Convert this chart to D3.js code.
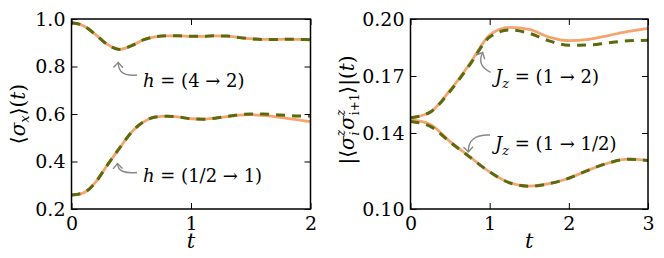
<!DOCTYPE html>
<meta charset="utf-8">
<title>Quench dynamics</title>
<style>
body { margin: 0; background: #fff; }
svg { display: block; }
svg text { font-family: "DejaVu Serif", "Liberation Serif", serif; }
.frame { fill: none; stroke: #000; stroke-width: 1.5; }
.axis path { display: none; }
.axis line { stroke: #000; stroke-width: 1; }
.axis text { font-size: 19px; fill: #000; }
.solid { fill: none; stroke: #f5a46e; stroke-width: 2.8; }
.dashed { fill: none; stroke: #5a6a0c; stroke-width: 3; stroke-dasharray: 9,7; }
.note { stroke: #888; stroke-width: 1.4; fill: none; }
.lbl { font-size: 18px; fill: #000; }
</style>
<svg width="664" height="258"></svg>
<script src="https://d3js.org/d3.v7.min.js"></script>
<script>
// left panel: <sigma_x>(t)
const tLeft = [0,0.1,0.2,0.3,0.4,0.5,0.6,0.7,0.8,0.9,1.0,1.1,1.2,1.3,1.4,1.5,1.6,1.7,1.8,1.9,2.0];
const hHighExact = [0.984,0.972,0.935,0.893,0.872,0.887,0.912,0.925,0.929,0.929,0.927,0.927,0.929,0.928,0.922,0.917,0.914,0.914,0.915,0.914,0.913];
const hHighApprox = [0.984,0.972,0.935,0.893,0.872,0.887,0.912,0.925,0.929,0.929,0.927,0.927,0.929,0.928,0.922,0.917,0.914,0.914,0.915,0.914,0.913];
const hLowExact = [0.259,0.268,0.312,0.385,0.455,0.522,0.566,0.587,0.591,0.587,0.580,0.578,0.582,0.589,0.595,0.597,0.594,0.589,0.582,0.575,0.568];
const hLowApprox = [0.259,0.268,0.312,0.385,0.455,0.522,0.566,0.587,0.591,0.587,0.580,0.578,0.582,0.590,0.597,0.600,0.600,0.597,0.594,0.592,0.592];
const leftTicksX = [0,1,2];
const leftTicksY = [0.2,0.4,0.6,0.8,1.0];

// right panel: |<sz_i sz_i+1>|(t)
const tRight = [0,0.25,0.5,0.75,1.0,1.25,1.5,1.75,2.0,2.25,2.5,2.75,3.0];
const jUpExact = [0.148,0.151,0.1625,0.1765,0.1915,0.1956,0.1945,0.1905,0.1886,0.1893,0.1913,0.1935,0.1951];
const jUpApprox = [0.148,0.151,0.1620,0.1760,0.1905,0.1942,0.1925,0.1885,0.1862,0.1863,0.1875,0.1885,0.1888];
const jDownExact = [0.147,0.1445,0.1355,0.1275,0.1195,0.1138,0.1120,0.1133,0.1162,0.1205,0.1242,0.1262,0.1255];
const jDownApprox = [0.146,0.1435,0.1352,0.1273,0.1195,0.1138,0.1120,0.1133,0.1162,0.1205,0.1242,0.1262,0.1255];
const rightTicksX = [0,1,2,3];
const rightTicksY = [0.10,0.14,0.17,0.20];

const svg = d3.select("svg");

function panel(cfg) {
  const x = d3.scaleLinear().domain(cfg.xd).range([cfg.left, cfg.right]);
  const y = d3.scaleLinear().domain(cfg.yd).range([209, 19]);
  const g = svg.append("g");
  const line = d3.line().curve(d3.curveMonotoneX).x(d => x(d[0])).y(d => y(d[1]));
  cfg.series.forEach(s => {
    g.append("path").attr("class", "solid").attr("d", line(cfg.t.map((t, i) => [t, s[0][i]])));
  });
  cfg.series.forEach(s => {
    g.append("path").attr("class", "dashed").attr("d", line(cfg.t.map((t, i) => [t, s[1][i]])));
  });
  g.append("g").attr("class", "axis").attr("transform", `translate(0,209)`)
    .call(d3.axisBottom(x).tickValues(cfg.xt).tickFormat(d3.format("d")).tickSize(-6).tickPadding(8));
  g.append("g").attr("class", "axis").attr("transform", `translate(0,19)`)
    .call(d3.axisTop(x).tickValues(cfg.xt).tickFormat("").tickSize(-6));
  g.append("g").attr("class", "axis").attr("transform", `translate(${cfg.left},0)`)
    .call(d3.axisLeft(y).tickValues(cfg.yt).tickFormat(d3.format(cfg.yf)).tickSize(-6).tickPadding(6));
  g.append("g").attr("class", "axis").attr("transform", `translate(${cfg.right},0)`)
    .call(d3.axisRight(y).tickValues(cfg.yt).tickFormat("").tickSize(-6));
  g.selectAll(".axis").attr("font-family", null);
  g.append("rect").attr("class", "frame")
    .attr("x", cfg.left).attr("y", 19).attr("width", cfg.right - cfg.left).attr("height", 190);
  g.append("text").attr("class", "lbl").attr("x", (cfg.left + cfg.right) / 2).attr("y", 248)
    .attr("text-anchor", "middle").style("font-style", "italic").style("font-size", "21px").text("t");
  return g;
}

function arrow(g, p0, c, p1) {
  g.append("path").attr("class", "note").attr("d", `M${p0[0]},${p0[1]}Q${c[0]},${c[1]} ${p1[0]},${p1[1]}`);
  const a = Math.atan2(p1[1] - c[1], p1[0] - c[0]);
  const L = 7, w = Math.PI / 4.2;
  const h = [a + Math.PI - w, a + Math.PI + w].map(b => [p1[0] + L * Math.cos(b), p1[1] + L * Math.sin(b)]);
  g.append("path").attr("class", "note").attr("d", `M${h[0][0]},${h[0][1]}L${p1[0]},${p1[1]}L${h[1][0]},${h[1][1]}`);
}

function note(g, x, y, sym, sub, rest) {
  const t = g.append("text").attr("class", "lbl").attr("x", x).attr("y", y);
  t.append("tspan").style("font-style", "italic").text(sym);
  if (sub) {
    t.append("tspan").style("font-style", "italic").style("font-size", "13px").attr("dy", 5).text(sub);
    t.append("tspan").attr("dy", -5).text(" = " + rest);
  } else {
    t.append("tspan").text(" = " + rest);
  }
}

const gl = panel({
  xd: [0, 2], yd: [0.2, 1.0], left: 71.5, right: 310.5,
  t: tLeft, xt: leftTicksX, yt: leftTicksY, yf: ".1f",
  series: [[hHighExact, hHighApprox], [hLowExact, hLowApprox]]
});
arrow(gl, [137, 75], [118, 77], [118.3, 62.5]);
arrow(gl, [137, 172.5], [118, 174.5], [117.5, 163.5]);
note(gl, 143, 87, "h", null, "(4 \u2192 2)");
note(gl, 143, 182, "h", null, "(1/2 \u2192 1)");

const ylL = gl.append("text").attr("class", "lbl").attr("transform", "translate(25,114) rotate(-90)")
  .attr("text-anchor", "middle").style("font-size", "20px");
ylL.append("tspan").text("\u27e8");
ylL.append("tspan").style("font-style", "italic").text("\u03c3");
ylL.append("tspan").style("font-style", "italic").style("font-size", "13px").attr("dy", 4).text("x");
ylL.append("tspan").attr("dy", -4).text("\u27e9(");
ylL.append("tspan").style("font-style", "italic").text("t");
ylL.append("tspan").text(")");

const gr = panel({
  xd: [0, 3], yd: [0.10, 0.20], left: 410.5, right: 648,
  t: tRight, xt: rightTicksX, yt: rightTicksY, yf: ".2f",
  series: [[jUpExact, jUpApprox], [jDownExact, jDownApprox]]
});
arrow(gr, [490.7, 72.3], [476.3, 65.5], [482.7, 52.5]);
arrow(gr, [490, 135], [468, 134], [468.3, 152]);
note(gr, 495, 83, "J", "z", "(1 \u2192 2)");
note(gr, 495, 150, "J", "z", "(1 \u2192 1/2)");

const ylR = gr.append("text").attr("class", "lbl").attr("transform", "translate(354,110) rotate(-90)")
  .attr("text-anchor", "middle").style("font-size", "20px");
ylR.append("tspan").text("|\u27e8");
ylR.append("tspan").style("font-style", "italic").text("\u03c3");
ylR.append("tspan").style("font-style", "italic").style("font-size", "12px").attr("dy", -9).text("z");
ylR.append("tspan").style("font-style", "italic").style("font-size", "12px").attr("dx", -5.5).attr("dy", 14).text("i");
ylR.append("tspan").style("font-style", "italic").attr("dx", 2).attr("dy", -5).text("\u03c3");
ylR.append("tspan").style("font-style", "italic").style("font-size", "12px").attr("dy", -9).text("z");
ylR.append("tspan").style("font-size", "12px").attr("dx", -5.5).attr("dy", 14).text("i+1");
ylR.append("tspan").attr("dy", -5).text("\u27e9|(");
ylR.append("tspan").style("font-style", "italic").text("t");
ylR.append("tspan").text(")");
</script>
